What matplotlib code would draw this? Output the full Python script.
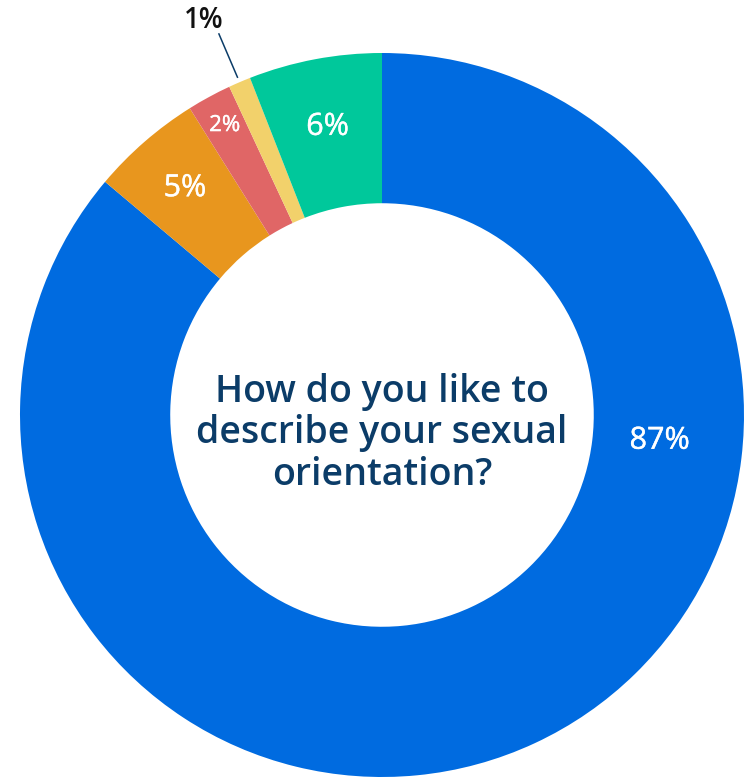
import numpy as np
import matplotlib.pyplot as plt
import matplotlib.patheffects as pe

categories = ["Heterosexual", "Bisexual", "Gay/Lesbian", "Other", "Prefer not to say"]
shares = [87, 5, 2, 1, 6]
pct_labels = ["87%", "5%", "2%", "1%", "6%"]
colors = ["#006BE0", "#E8961E", "#E06666", "#F2D16B", "#00C89B"]

question = "How do you like to\ndescribe your sexual\norientation?"
navy = "#0B3C68"

plt.rcParams['font.family'] = ['Open Sans', 'DejaVu Sans']

fig = plt.figure(figsize=(7.49, 7.81), dpi=100)
# centre of the ring sits at (382, 415) px with a 362 px outer radius
ax = fig.add_axes([20 / 749, 4 / 781, 724 / 749, 724 / 781])

wedges, _ = ax.pie(shares, colors=colors, startangle=90, counterclock=False,
                   radius=1.0, wedgeprops=dict(width=0.415, linewidth=0))
ax.set_xlim(-1, 1)
ax.set_ylim(-1, 1)
ax.set_aspect('equal')
ax.axis('off')

# label distance, size and angle override per wedge
label_r = [0.77, 0.83, 0.91, None, 0.81]
label_fs = [22, 22, 16, None, 22]
label_ang = [-5.3, None, None, None, None]
# a hairline stroke gives the white labels a medium weight
medium = [pe.withStroke(linewidth=0.3, foreground='white')]

for i, w in enumerate(wedges):
    ang = label_ang[i] if label_ang[i] is not None else (w.theta1 + w.theta2) / 2
    mid = np.deg2rad(ang)
    if label_r[i] is None:
        # too thin for an inside label: leader line out to the text
        x0, y0 = 1.015 * np.cos(mid), 1.015 * np.sin(mid)
        x1, y1 = 1.145 * np.cos(mid), 1.145 * np.sin(mid)
        ax.plot([x0, x1], [y0, y1], color=navy, lw=1.1, clip_on=False)
        tx, ty = 1.195 * np.cos(mid + 0.02), 1.195 * np.sin(mid + 0.02)
        ax.text(tx, ty, pct_labels[i], ha='center', va='center', fontsize=20,
                fontweight='semibold', color='#111111', clip_on=False)
        continue
    ax.text(label_r[i] * np.cos(mid), label_r[i] * np.sin(mid), pct_labels[i],
            ha='center', va='center', fontsize=label_fs[i], color='white',
            fontweight='normal', path_effects=medium)

ax.text(0, -0.05, question, ha='center', va='center', fontsize=27,
        fontweight='semibold', color=navy, linespacing=1.12)

fig.savefig("out.png", dpi=100)
